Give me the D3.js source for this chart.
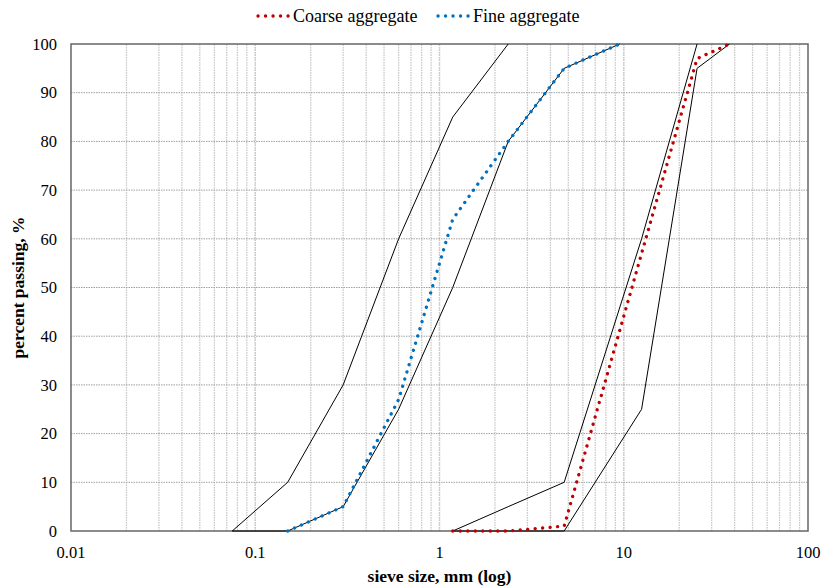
<!DOCTYPE html>
<html>
<head>
<meta charset="utf-8">
<script src="https://cdn.jsdelivr.net/npm/d3@7"></script>
<style>
  body { margin: 0; background: #fff; }
  svg { font-family: "Liberation Serif", "Times New Roman", serif; }
</style>
</head>
<body>
<div id="chart"></div>
<script>
// grading limits (black envelopes)
const fineUpperSize = [0.075, 0.15, 0.3, 0.6, 1.18, 2.36];
const fineUpperPass = [0, 10, 30, 60, 85, 100];
const fineLowerSize = [0.075, 0.15, 0.3, 0.6, 1.18, 2.36, 4.75, 9.5];
const fineLowerPass = [0, 0, 5, 25, 50, 80, 95, 100];
const coarseUpperSize = [1.18, 2.36, 4.75, 12.5, 25];
const coarseUpperPass = [0, 5, 10, 60, 100];
const coarseLowerSize = [1.18, 2.36, 4.75, 12.5, 25, 37.5];
const coarseLowerPass = [0, 0, 0, 25, 95, 100];

// measured gradations
const coarseSize = [1.18, 2.36, 4.75, 12.5, 25, 37.5];
const coarsePass = [0, 0, 1, 57, 97, 100];
const fineSize = [0.15, 0.3, 0.6, 1.18, 2.36, 4.75, 9.5];
const finePass = [0, 5, 27, 64, 80, 95, 100];

const xTicks = [0.01, 0.1, 1, 10, 100];
const yTicks = [0, 10, 20, 30, 40, 50, 60, 70, 80, 90, 100];

const width = 825, height = 588;
const margin = { top: 44, right: 17, bottom: 57, left: 71 };

const svg = d3.select('#chart').append('svg')
  .attr('width', width).attr('height', height);

const x = d3.scaleLog().domain([0.01, 100]).range([margin.left, width - margin.right]);
const y = d3.scaleLinear().domain([0, 100]).range([height - margin.bottom, margin.top]);

const zip = (s, p) => s.map((v, i) => [v, p[i]]);
const line = d3.line().x(d => x(d[0])).y(d => y(d[1]));

// minor + major vertical gridlines
const minor = [];
[0.01, 0.1, 1, 10].forEach(d => { for (let k = 1; k <= 10; k++) minor.push(d * k); });
svg.append('g').selectAll('line').data(minor.filter(v => v > 0.01 && v < 100)).enter()
  .append('line')
  .attr('x1', d => x(d)).attr('x2', d => x(d))
  .attr('y1', y(0)).attr('y2', y(100))
  .attr('stroke', '#c8c8c8').attr('stroke-width', 1.3)
  .attr('stroke-dasharray', '1.5,1');

// horizontal gridlines
svg.append('g').selectAll('line').data(yTicks.slice(1, -1)).enter()
  .append('line')
  .attr('x1', x(0.01)).attr('x2', x(100))
  .attr('y1', d => y(d)).attr('y2', d => y(d))
  .attr('stroke', '#a0a0a0').attr('stroke-width', 1)
  .attr('stroke-dasharray', '1.5,1');

// plot border
svg.append('rect')
  .attr('x', x(0.01)).attr('y', y(100))
  .attr('width', x(100) - x(0.01)).attr('height', y(0) - y(100))
  .attr('fill', 'none').attr('stroke', '#666').attr('stroke-width', 1.5);

// envelopes
[[fineUpperSize, fineUpperPass], [fineLowerSize, fineLowerPass],
 [coarseUpperSize, coarseUpperPass], [coarseLowerSize, coarseLowerPass]].forEach(([s, p]) => {
  svg.append('path').datum(zip(s, p))
    .attr('d', line).attr('fill', 'none')
    .attr('stroke', '#000').attr('stroke-width', 1);
});

// measured series
function dotted(sel, color) {
  return sel.attr('fill', 'none').attr('stroke', color)
    .attr('stroke-width', 3.3).attr('stroke-linecap', 'round')
    .attr('stroke-dasharray', '0.1,7.4');
}
dotted(svg.append('path').datum(zip(coarseSize, coarsePass)).attr('d', line), '#c00000');
dotted(svg.append('path').datum(zip(fineSize, finePass)).attr('d', line), '#0070c0');

// axis labels
svg.append('g').selectAll('text').data(yTicks).enter().append('text')
  .attr('x', margin.left - 14).attr('y', d => y(d)).attr('dy', '0.35em')
  .attr('text-anchor', 'end').style('font-size', '16.5px').text(d => d);

svg.append('g').selectAll('text').data(xTicks).enter().append('text')
  .attr('x', d => x(d)).attr('y', y(0) + 27)
  .attr('text-anchor', 'middle').style('font-size', '16.5px').text(d => d);

svg.append('text')
  .attr('x', (x(0.01) + x(100)) / 2).attr('y', 582)
  .attr('text-anchor', 'middle').style('font-size', '17.5px').style('font-weight', 'bold')
  .text('sieve size, mm (log)');

svg.append('text')
  .attr('transform', `translate(24,${(y(0) + y(100)) / 2}) rotate(-90)`)
  .attr('text-anchor', 'middle').style('font-size', '17.5px').style('font-weight', 'bold')
  .text('percent passing, %');

// legend
const legend = [
  { name: 'Coarse aggregate', color: '#c00000', x0: 258 },
  { name: 'Fine aggregate', color: '#0070c0', x0: 438 }
];
legend.forEach(d => {
  dotted(svg.append('line')
    .attr('x1', d.x0).attr('x2', d.x0 + 31)
    .attr('y1', 16).attr('y2', 16), d.color);
  svg.append('text')
    .attr('x', d.x0 + 35).attr('y', 16).attr('dy', '0.35em')
    .style('font-size', '18px').text(d.name);
});
</script>
</body>
</html>
